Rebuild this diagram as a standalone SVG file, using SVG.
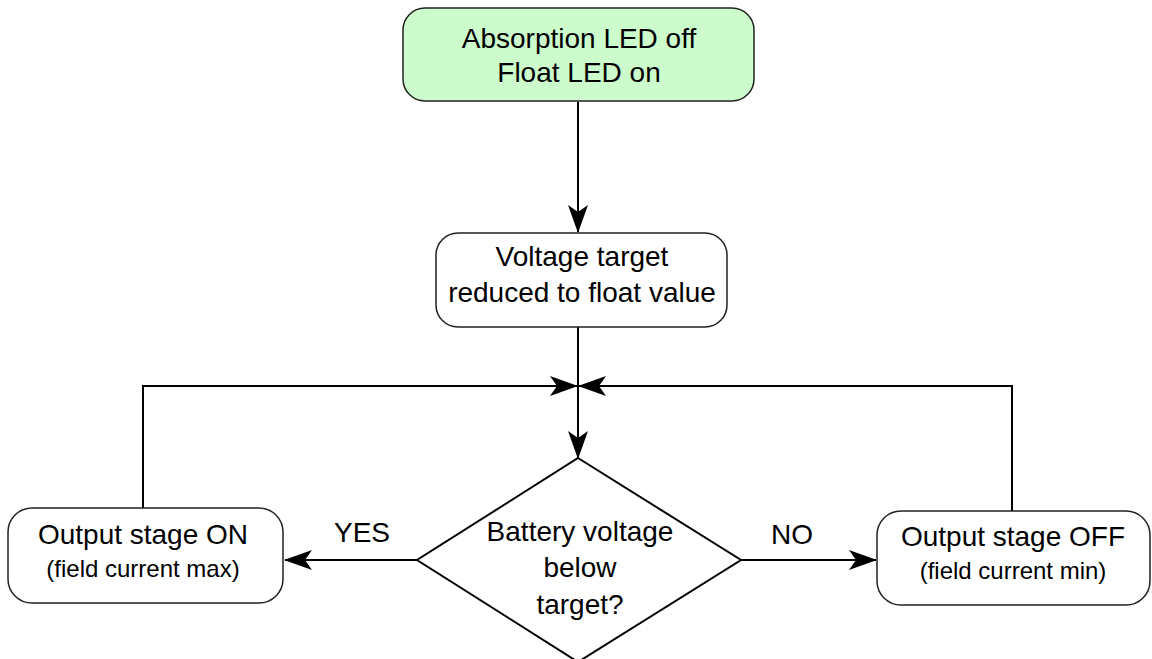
<svg xmlns="http://www.w3.org/2000/svg" width="1152" height="659" viewBox="0 0 1152 659">
<defs>
<marker id="arr" markerUnits="userSpaceOnUse" viewBox="0 0 28 20" refX="27" refY="10" markerWidth="28" markerHeight="20" orient="auto">
<path d="M0,0 L28,10 L0,20 L7,10 Z" fill="#000"/>
</marker>
</defs>
<style>
.box{fill:#fff;stroke:#222;stroke-width:1.5}
.green{fill:#ccfccc}
.dia{fill:#fff;stroke:#000;stroke-width:2}
.t{font-family:"Liberation Sans",Arial,sans-serif;font-size:28px;fill:#000;text-anchor:middle}
.s{font-family:"Liberation Sans",Arial,sans-serif;font-size:24px;fill:#000;text-anchor:middle}
.c{fill:none;stroke:#000;stroke-width:2}
</style>
<rect width="1152" height="659" fill="#fff"/>
<g id="connectors">
<line class="c" x1="578" y1="102" x2="578" y2="232" marker-end="url(#arr)"/>
<line class="c" x1="578" y1="327" x2="578" y2="458" marker-end="url(#arr)"/>
<polyline class="c" points="143,508 143,386 577,386" marker-end="url(#arr)"/>
<polyline class="c" points="1012,511 1012,386 579,386" marker-end="url(#arr)"/>
<line class="c" x1="417" y1="560" x2="285" y2="560" marker-end="url(#arr)"/>
<line class="c" x1="741" y1="560" x2="876" y2="560" marker-end="url(#arr)"/>
<text class="t" x="362" y="542">YES</text>
<text class="t" x="792" y="544">NO</text>
</g>
<g id="n-start">
<rect class="box green" x="403" y="8" width="351" height="93" rx="22"/>
<text class="t" x="579" y="48">Absorption LED off</text>
<text class="t" x="579" y="82">Float LED on</text>
</g>
<g id="n-target">
<rect class="box" x="436" y="233" width="291" height="94" rx="22"/>
<text class="t" x="582" y="266">Voltage target</text>
<text class="t" x="582" y="302">reduced to float value</text>
</g>
<g id="n-decision">
<polygon class="dia" points="578,458 741,560 578,662 417,560"/>
<text class="t" x="580" y="541">Battery voltage</text>
<text class="t" x="580" y="577">below</text>
<text class="t" x="580" y="614">target?</text>
</g>
<g id="n-on">
<rect class="box" x="8" y="508" width="275" height="95" rx="24"/>
<text class="t" x="143" y="544">Output stage ON</text>
<text class="s" x="143" y="577">(field current max)</text>
</g>
<g id="n-off">
<rect class="box" x="877" y="511" width="273" height="94" rx="24"/>
<text class="t" x="1013" y="546">Output stage OFF</text>
<text class="s" x="1013" y="579">(field current min)</text>
</g>
</svg>
